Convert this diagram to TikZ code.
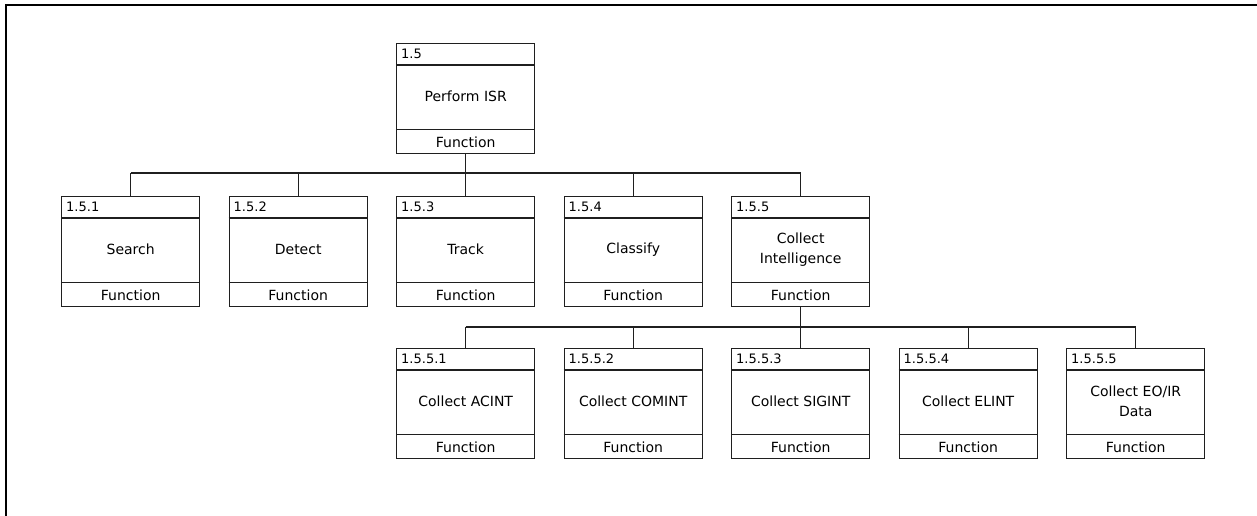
\documentclass[tikz,border=0pt]{standalone}
\usepackage{fontspec}
\setmainfont{DejaVu Sans}
\usetikzlibrary{calc}
\tikzset{
  x=1pt, y=-1pt,
  ln/.style={line width=1.4pt, draw=black!88},
  fbox/.style={ln, rectangle, minimum width=138pt, minimum height=110pt, inner sep=0pt, anchor=north west},
  idtxt/.style={anchor=west, inner sep=0pt, font=\fontsize{13}{15}\selectfont},
  nametxt/.style={align=center, inner sep=0pt, font=\fontsize{14}{20.5}\selectfont},
  fntxt/.style={inner sep=0pt, font=\fontsize{14}{16}\selectfont},
}
\newcommand\fnode[5]{%
  \node[fbox] (#1) at (#2,#3) {};
  \draw[ln] ([yshift=-22pt]#1.north west) -- ([yshift=-22pt]#1.north east);
  \draw[ln] ([yshift=25pt]#1.south west) -- ([yshift=25pt]#1.south east);
  \node[idtxt] (#1id) at ([xshift=5pt,yshift=-11pt]#1.north west) {#4};
  \node[nametxt] (#1name) at ([yshift=-53.5pt]#1.north) {#5};
  \node[fntxt] (#1fn) at ([yshift=12.5pt]#1.south) {Function};
}
\begin{document}
\begin{tikzpicture}
\useasboundingbox (0,0) rectangle (1257,516);
\coordinate (frameBL) at (6,516);
\coordinate (frameTL) at (6,5);
\coordinate (frameTR) at (1257,5);
\draw[line width=1.6pt] (frameBL) -- (frameTL) -- (frameTR);

\fnode{b15}{396}{43}{1.5}{Perform ISR}

\fnode{b151}{61}{196}{1.5.1}{Search}
\fnode{b152}{228.5}{196}{1.5.2}{Detect}
\fnode{b153}{396}{196}{1.5.3}{Track}
\fnode{b154}{563.5}{196}{1.5.4}{Classify}
\fnode{b155}{731}{196}{1.5.5}{Collect\\Intelligence}

\fnode{b1551}{396}{348}{1.5.5.1}{Collect ACINT}
\fnode{b1552}{563.5}{348}{1.5.5.2}{Collect COMINT}
\fnode{b1553}{731}{348}{1.5.5.3}{Collect SIGINT}
\fnode{b1554}{898.5}{348}{1.5.5.4}{Collect ELINT}
\fnode{b1555}{1066}{348}{1.5.5.5}{Collect EO/IR\\Data}

\coordinate (bus1) at (0,173);
\coordinate (bus2) at (0,327);

\draw[ln] (b15.south) -- (b15.south |- bus1);
\draw[ln] (b151.north |- bus1) -- (b155.north |- bus1);
\foreach \n in {b151,b152,b153,b154,b155}
  \draw[ln] (\n.north) -- (\n.north |- bus1);

\draw[ln] (b155.south) -- (b155.south |- bus2);
\draw[ln] (b1551.north |- bus2) -- (b1555.north |- bus2);
\foreach \n in {b1551,b1552,b1553,b1554,b1555}
  \draw[ln] (\n.north) -- (\n.north |- bus2);
\end{tikzpicture}
\end{document}
